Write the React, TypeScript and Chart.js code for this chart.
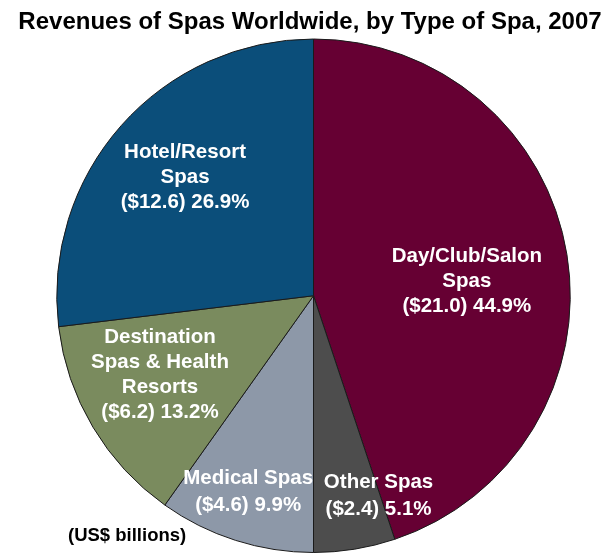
import React, { useEffect, useRef } from "react";
import { Chart, registerables } from "chart.js";

Chart.register(...registerables);

const categories = ["Day/Club/Salon Spas", "Other Spas", "Medical Spas", "Destination Spas & Health Resorts", "Hotel/Resort Spas"];
const revenues = [21.0, 2.4, 4.6, 6.2, 12.6];
const shares = ["44.9%", "5.1%", "9.9%", "13.2%", "26.9%"];
const labelLines = [
  ["Day/Club/Salon", "Spas", "($21.0) 44.9%"],
  ["Other Spas", "($2.4) 5.1%"],
  ["Medical Spas", "($4.6) 9.9%"],
  ["Destination", "Spas & Health", "Resorts", "($6.2) 13.2%"],
  ["Hotel/Resort", "Spas", "($12.6) 26.9%"],
];
const colors = ["#660033", "#4D4D4D", "#8D98A8", "#7A8B5E", "#0B4E7A"];
// label placement: radius fraction and angle offset (radians)
const labelRadius = [0.6, 0.82, 0.805, 0.673, 0.68];
const labelAngleShift = [0.066, -0.153, 0.013, 0.06, 0.019];
const labelLineHeight = [25, 27, 27, 25, 25];
const title = "Revenues of Spas Worldwide, by Type of Spa, 2007";
const unitNote = "(US$ billions)";

const FONT = "'Liberation Sans', Arial, sans-serif";

const labelPlugin = {
  id: "sliceLabels",
  afterDatasetsDraw(chart: any) {
    const ctx = chart.ctx;
    const meta = chart.getDatasetMeta(0);
    ctx.save();
    ctx.fillStyle = "#ffffff";
    ctx.font = `bold 20.5px ${FONT}`;
    ctx.textAlign = "center";
    ctx.textBaseline = "middle";
    meta.data.forEach((arc: any, i: number) => {
      const p = arc.getProps(["x", "y", "startAngle", "endAngle", "outerRadius"], true);
      const mid = (p.startAngle + p.endAngle) / 2 + labelAngleShift[i];
      const r = p.outerRadius * labelRadius[i];
      const cx = p.x + Math.cos(mid) * r;
      const cy = p.y + Math.sin(mid) * r;
      const lines = labelLines[i];
      const lh = labelLineHeight[i];
      lines.forEach((t, k) => {
        ctx.fillText(t, cx, cy + (k - (lines.length - 1) / 2) * lh);
      });
    });
    ctx.fillStyle = "#000000";
    ctx.font = `bold 18.5px ${FONT}`;
    ctx.textAlign = "left";
    ctx.fillText(unitNote, 68, 536);
    ctx.font = `bold 24px ${FONT}`;
    ctx.textAlign = "center";
    ctx.fillText(title, 310, 22);
    ctx.restore();
  },
};

export default function App() {
  const ref = useRef<HTMLCanvasElement>(null);
  useEffect(() => {
    document.body.style.margin = "0";
    const chart = new Chart(ref.current!, {
      type: "pie",
      data: {
        labels: categories,
        datasets: [
          {
            data: revenues,
            backgroundColor: colors,
            borderColor: "#1a1a1a",
            borderWidth: 1,
          },
        ],
      },
      options: {
        animation: false,
        responsive: false,
        layout: { padding: { left: 56, right: 42, top: 38.5, bottom: 3 } },
        plugins: {
          legend: { display: false },
          tooltip: { enabled: false },
          title: { display: false },
        },
      },
      plugins: [labelPlugin],
    });
    return () => chart.destroy();
  }, []);
  return (
    <div style={{ width: 613, height: 556 }}>
      <canvas ref={ref} width={613} height={556} style={{ width: 613, height: 556 }} />
    </div>
  );
}
